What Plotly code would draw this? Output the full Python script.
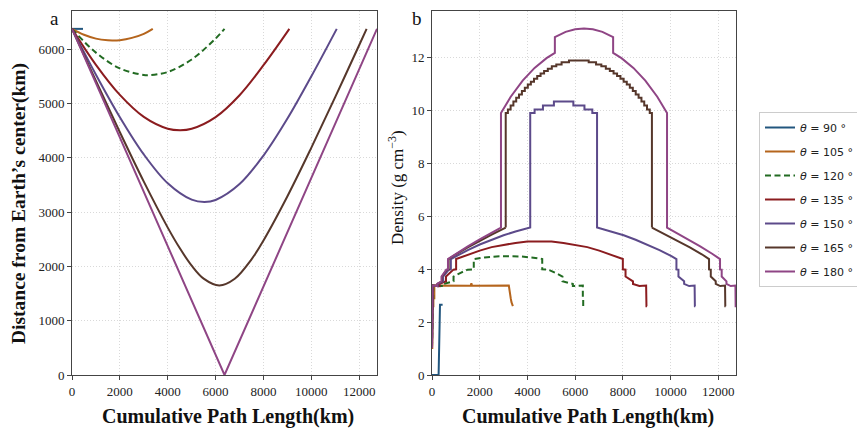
import plotly.graph_objects as go
from plotly.subplots import make_subplots

# ---------------- data ----------------
labels = ["<i>θ</i> = 90 °", "<i>θ</i> = 105 °", "<i>θ</i> = 120 °", "<i>θ</i> = 135 °",
          "<i>θ</i> = 150 °", "<i>θ</i> = 165 °", "<i>θ</i> = 180 °"]
colors = ["#22567e", "#b5651d", "#226b22", "#8b1c1f", "#5c4a8a", "#56372b", "#8f4585"]

# panel a: distance from Earth's centre (km) vs cumulative path length (km)
a90_s = [0, 460]
a90_r = [6371, 6371]
a105_s = [0, 500, 1000, 1500, 1700, 2000, 2500, 3000, 3375]
a105_r = [6371, 6262, 6192, 6160, 6157, 6163, 6205, 6280, 6371]
a120_s = [0, 1000, 2000, 3000, 3186, 4000, 5000, 6000, 6371]
a120_r = [6371, 5934, 5643, 5521, 5517, 5577, 5808, 6194, 6371]
a135_s = [0, 1000, 2000, 3000, 4000, 4520, 5000, 6000, 7000, 8000, 9080]
a135_r = [6371, 5708, 5155, 4750, 4533, 4505, 4532, 4747, 5150, 5702, 6371]
a150_s = [0, 1000, 2000, 3000, 4000, 5000, 5530, 6000, 7000, 8000, 9000, 10000, 11060]
a150_r = [6371, 5528, 4746, 4060, 3529, 3227, 3185, 3222, 3514, 4039, 4720, 5499, 6371]
a165_s = [0, 1000, 2000, 3000, 4000, 4500, 5000, 5500, 6154, 6800, 7500, 8000, 9000, 10000, 11000, 12000, 12308]
a165_r = [6371, 5411, 4469, 3559, 2713, 2336, 2013, 1774, 1649, 1772, 2129, 2476, 3290, 4185, 5119, 6074, 6371]
a180_s = [0, 6371, 12742]
a180_r = [6371, 0, 6371]

# panel b: density (g/cm^3) along the path
b90_s = [0, 277, 335, 445]
b90_d = [0, 0, 2.65, 2.65]
b105_s = [0, 12, 12, 59, 59, 98, 98, 1620, 1650, 1680, 3220, 3260, 3300, 3330, 3390]
b105_d = [1.02, 1.02, 2.6, 2.6, 2.9, 2.9, 3.38, 3.37, 3.46, 3.37, 3.38, 3.0, 2.9, 2.75, 2.6]
b120_s = [0, 6, 6, 33, 33, 49, 49, 467, 467, 903, 903, 1200, 1494, 1751, 1751, 2200, 2700, 3186,
          3671, 4171, 4620, 4620, 4877, 5171, 5468, 5468, 5904, 5904, 6322, 6322, 6338, 6338, 6371]
b120_d = [1.02, 1.02, 2.6, 2.6, 2.9, 2.9, 3.38, 3.36, 3.44, 3.54, 3.72, 3.86, 3.98, 3.99, 4.38, 4.44, 4.48, 4.49,
          4.48, 4.44, 4.38, 3.99, 3.98, 3.86, 3.72, 3.54, 3.44, 3.36, 3.38, 2.9, 2.9, 2.6, 2.6]
b135_s = [0, 4, 4, 21, 21, 35, 35, 317, 317, 586, 586, 898, 1011, 1011, 1500, 2000, 2500, 3000, 3500, 4000, 4505,
          5010, 5510, 6010, 6510, 7010, 7510, 7999, 7999, 8112, 8112, 8424, 8424, 8693, 8975, 8975, 8989, 8989, 9010]
b135_d = [1.02, 1.02, 2.6, 2.6, 2.9, 2.9, 3.38, 3.36, 3.44, 3.54, 3.72, 3.98, 3.99, 4.38, 4.55, 4.70, 4.83, 4.92, 4.99, 5.04, 5.05,
          5.04, 4.99, 4.92, 4.83, 4.70, 4.55, 4.38, 3.99, 3.98, 3.72, 3.54, 3.44, 3.36, 3.38, 2.9, 2.9, 2.6, 2.6]
b150_s = [0, 3, 3, 16, 16, 28, 28, 256, 256, 467, 467, 705, 790, 790, 1000, 1500, 2000, 2500, 3000, 3500, 4117,
          4117, 4300, 4300, 4650, 4650, 5110, 5110, 5925, 5925, 6390, 6390, 6720, 6720, 6918,
          6918, 7535, 8035, 8535, 9035, 9535, 10035, 10245, 10245, 10330, 10330, 10568, 10568, 10779, 11007, 11007, 11019, 11019, 11035]
b150_d = [1.02, 1.02, 2.6, 2.6, 2.9, 2.9, 3.38, 3.36, 3.44, 3.54, 3.72, 3.98, 3.99, 4.38, 4.49, 4.72, 4.93, 5.11, 5.28, 5.42, 5.57,
          9.90, 9.90, 10.03, 10.03, 10.18, 10.18, 10.33, 10.33, 10.18, 10.18, 10.03, 10.03, 9.90, 9.90,
          5.57, 5.42, 5.28, 5.11, 4.93, 4.72, 4.49, 4.38, 3.99, 3.98, 3.72, 3.54, 3.44, 3.36, 3.38, 2.9, 2.9, 2.6, 2.6]
# 165 deg: mantle legs (linear) + stepped outer core (shell boundaries, shell density)
b165_in_s = [0, 3, 3, 15, 15, 25, 25, 228, 228, 415, 415, 623, 696, 696, 1000, 1500, 2000, 2500, 3090]
b165_in_d = [1.02, 1.02, 2.6, 2.6, 2.9, 2.9, 3.38, 3.36, 3.44, 3.54, 3.72, 3.98, 3.99, 4.38, 4.56, 4.82, 5.07, 5.30, 5.57]
b165_core_s = [3090, 3090, 3181, 3296, 3412, 3529, 3648, 3769, 3891, 4016, 4144, 4275, 4410, 4551, 4698, 4854, 5022, 5210, 5432, 5741,
               6567, 6876, 7098, 7286, 7454, 7610, 7757, 7898, 8033, 8164, 8292, 8417, 8539, 8660, 8779, 8896, 9012, 9127, 9218]
b165_core_d = [5.57, 9.90, 10.03, 10.18, 10.33, 10.47, 10.60, 10.73, 10.85, 10.97, 11.08, 11.19, 11.29, 11.39, 11.48, 11.57, 11.66, 11.73, 11.81, 11.88,
               11.81, 11.73, 11.66, 11.57, 11.48, 11.39, 11.29, 11.19, 11.08, 10.97, 10.85, 10.73, 10.60, 10.47, 10.33, 10.18, 10.03, 9.90, 5.57]
b165_out_s = [9218, 9808, 10308, 10808, 11308, 11612, 11612, 11685, 11685, 11893, 11893, 12080, 12283, 12283, 12293, 12293, 12308]
b165_out_d = [5.57, 5.30, 5.07, 4.82, 4.56, 4.38, 3.99, 3.98, 3.72, 3.54, 3.44, 3.36, 3.38, 2.9, 2.9, 2.6, 2.6]
b180_s = [0, 3, 3, 15, 15, 24, 24, 220, 220, 400, 400, 600, 670, 670, 1000, 1500, 2000, 2500, 2891,
          2891, 3300, 3800, 4300, 4800, 5150, 5150, 5600, 6000, 6371, 6742, 7142, 7592, 7592, 7942, 8442, 8942, 9442, 9851,
          9851, 10242, 10742, 11242, 11742, 12072, 12072, 12142, 12142, 12342, 12342, 12522, 12718, 12718, 12727, 12727, 12742]
b180_d = [1.02, 1.02, 2.6, 2.6, 2.9, 2.9, 3.38, 3.36, 3.44, 3.54, 3.72, 3.98, 3.99, 4.38, 4.58, 4.86, 5.12, 5.37, 5.57,
          9.90, 10.51, 11.12, 11.60, 11.97, 12.17, 12.76, 12.96, 13.06, 13.09, 13.06, 12.96, 12.76, 12.17, 11.97, 11.60, 11.12, 10.51, 9.90,
          5.57, 5.37, 5.12, 4.86, 4.58, 4.38, 3.99, 3.98, 3.72, 3.54, 3.44, 3.36, 3.38, 2.9, 2.9, 2.6, 2.6]

x_ticks = [0, 2000, 4000, 6000, 8000, 10000, 12000]
ya_ticks = [0, 1000, 2000, 3000, 4000, 5000, 6000]
yb_ticks = [0, 2, 4, 6, 8, 10, 12]

# ---------------- figure ----------------
# page body has an 8px margin: figure pixels = window pixels - 8
W, H, OFF = 857, 424, 8
def px(x):
    return (x - OFF) / W
def py(y):
    return 1 - (y - OFF) / H

fig = make_subplots(rows=1, cols=2)

a_sets = [(a90_s, a90_r), (a105_s, a105_r), (a120_s, a120_r), (a135_s, a135_r),
          (a150_s, a150_r), (a165_s, a165_r), (a180_s, a180_r)]
for i, (s, r) in enumerate(a_sets):
    fig.add_trace(go.Scatter(x=s, y=r, mode="lines", name=labels[i], showlegend=False,
                             line=dict(color=colors[i], width=2, shape="spline" if i not in (0, 6) else "linear",
                                       dash="6px,3.5px" if i == 2 else "solid")),
                  row=1, col=1)

b_sets = [(b90_s, b90_d), (b105_s, b105_d), (b120_s, b120_d), (b135_s, b135_d), (b150_s, b150_d)]
for i, (s, d) in enumerate(b_sets):
    fig.add_trace(go.Scatter(x=s, y=d, mode="lines", name=labels[i], legendgroup=str(i), showlegend=True,
                             line=dict(color=colors[i], width=2, dash="6px,3.5px" if i == 2 else "solid")),
                  row=1, col=2)
fig.add_trace(go.Scatter(x=b165_in_s, y=b165_in_d, mode="lines", name=labels[5], legendgroup="5", showlegend=True,
                         line=dict(color=colors[5], width=2)), row=1, col=2)
fig.add_trace(go.Scatter(x=b165_core_s, y=b165_core_d, mode="lines", name=labels[5], legendgroup="5", showlegend=False,
                         line=dict(color=colors[5], width=2, shape="hv")), row=1, col=2)
fig.add_trace(go.Scatter(x=b165_out_s, y=b165_out_d, mode="lines", name=labels[5], legendgroup="5", showlegend=False,
                         line=dict(color=colors[5], width=2)), row=1, col=2)
fig.add_trace(go.Scatter(x=b180_s, y=b180_d, mode="lines", name=labels[6], legendgroup="6", showlegend=True,
                         line=dict(color=colors[6], width=2)), row=1, col=2)

tick_font = dict(family="Liberation Serif", size=13, color="#222")
axis_common = dict(showline=True, mirror=True, linecolor="#444", linewidth=1, ticks="outside", ticklen=4,
                   tickcolor="#444", showgrid=True, gridcolor="#d9d9d9", griddash="1px,2px", gridwidth=1,
                   zeroline=False, tickfont=tick_font, automargin=False)

fig.update_xaxes(**axis_common, range=[0, 12742], tickvals=x_ticks, ticktext=[str(v) for v in x_ticks])
fig.update_xaxes(domain=[px(72), px(377)], row=1, col=1)
fig.update_xaxes(domain=[px(432), px(736)], row=1, col=2)
fig.update_yaxes(**axis_common)
fig.update_yaxes(range=[0, 6700], tickvals=ya_ticks, ticktext=[str(v) for v in ya_ticks],
                 domain=[py(375), py(11)], row=1, col=1)
fig.update_yaxes(range=[0, 13.75], tickvals=yb_ticks, ticktext=[str(v) for v in yb_ticks],
                 domain=[py(375), py(11)], row=1, col=2)

title_font_b = dict(family="Liberation Serif", size=20, color="#111")
def note(text, x, y, font, angle=0):
    fig.add_annotation(text=text, x=px(x), y=py(y), xref="paper", yref="paper", showarrow=False,
                       xanchor="center", yanchor="middle", textangle=angle, font=font)

note("<b>Cumulative Path Length(km)</b>", 228, 416, title_font_b)
note("<b>Cumulative Path Length(km)</b>", 588, 416, title_font_b)
note("<b>Distance from Earth’s center(km)</b>", 19, 204,
     dict(family="Liberation Serif", size=19.5, color="#111"), -90)
note("Density (g cm<sup>−3</sup>)", 396, 188,
     dict(family="Liberation Serif", size=17, color="#111"), -90)
note("a", 54, 19, dict(family="Liberation Serif", size=19, color="#111"))
note("b", 417, 19, dict(family="Liberation Serif", size=19, color="#111"))

fig.update_layout(
    width=W, height=H,
    margin=dict(l=0, r=0, t=0, b=0, autoexpand=False),
    paper_bgcolor="white", plot_bgcolor="white",
    legend=dict(x=px(759), y=py(112), xanchor="left", yanchor="top",
                bordercolor="#cccccc", borderwidth=1, bgcolor="white",
                font=dict(family="DejaVu Sans", size=11, color="#222"),
                tracegroupgap=5, itemwidth=30),
)

fig.write_html("out.html")
